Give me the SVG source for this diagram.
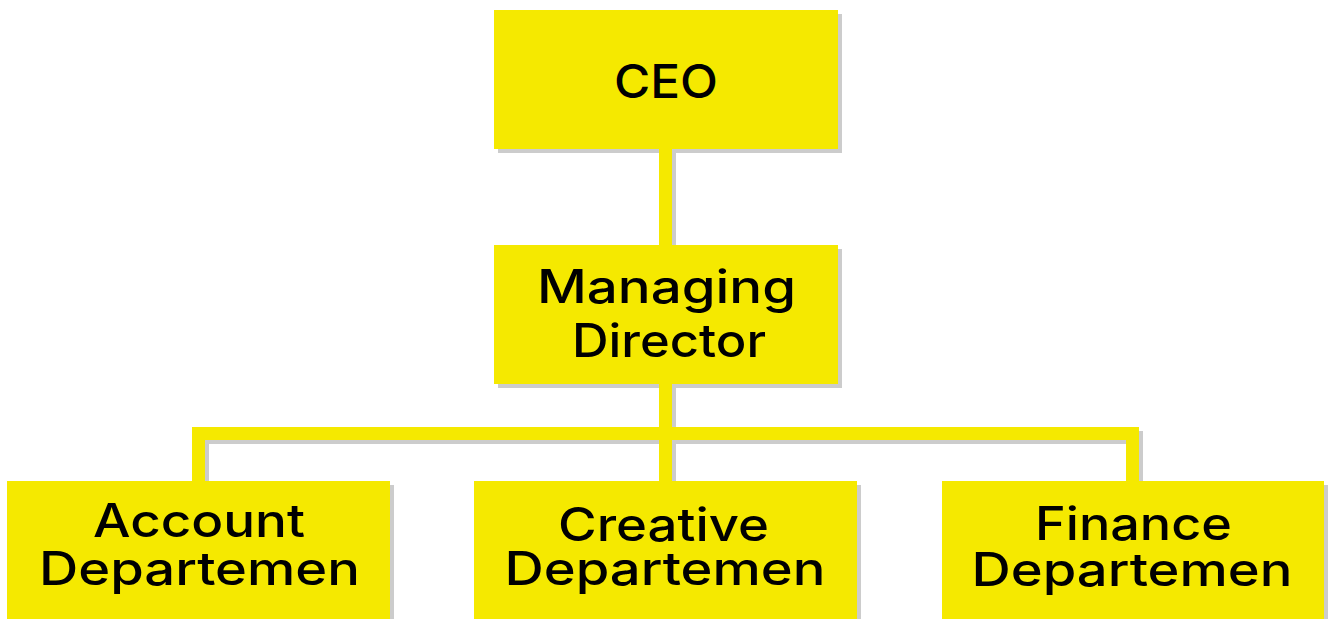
<svg xmlns="http://www.w3.org/2000/svg" width="1328" height="619" viewBox="0 0 1328 619">
<style>
.box{fill:#F5E900}
.sh{fill:#CCCCCC}
.cs{fill:none;stroke:#CCCCCC;stroke-width:13}
.c{fill:none;stroke:#F5E900;stroke-width:13}
.t{font-family:Inter,"Noto Sans",sans-serif;font-weight:500;font-size:46px;fill:#000;text-anchor:middle}
</style>
<rect width="1328" height="619" fill="#fff"/>
<g id="shadows">
<rect class="sh" x="498" y="14" width="344" height="139"/>
<rect class="sh" x="498" y="249" width="344" height="139"/>
<rect class="sh" x="11" y="485" width="383" height="138"/>
<rect class="sh" x="478" y="485" width="383" height="138"/>
<rect class="sh" x="946" y="485" width="382" height="138"/>
<path class="cs" d="M669.5 153V249M669.5 388V485M202.5 485V437.5H1136.5V485"/>
</g>
<g id="connectors">
<path class="c" d="M665.5 149V245M665.5 384V481M198.5 481V433.5H1132.5V481"/>
</g>
<g id="ceo">
<rect class="box" x="494" y="10" width="344" height="139"/>
<text class="t" x="666" y="98" textLength="104" lengthAdjust="spacingAndGlyphs">CEO</text>
</g>
<g id="managing-director">
<rect class="box" x="494" y="245" width="344" height="139"/>
<text class="t" x="666.5" y="303" textLength="259" lengthAdjust="spacingAndGlyphs">Managing</text>
<text class="t" x="669" y="357" textLength="194" lengthAdjust="spacingAndGlyphs">Director</text>
</g>
<g id="account">
<rect class="box" x="7" y="481" width="383" height="138"/>
<text class="t" x="199" y="537" textLength="212" lengthAdjust="spacingAndGlyphs">Account</text>
<text class="t" x="199.5" y="585" textLength="321" lengthAdjust="spacingAndGlyphs">Departemen</text>
</g>
<g id="creative">
<rect class="box" x="474" y="481" width="383" height="138"/>
<text class="t" x="663.5" y="541" textLength="211" lengthAdjust="spacingAndGlyphs">Creative</text>
<text class="t" x="665" y="585" textLength="321" lengthAdjust="spacingAndGlyphs">Departemen</text>
</g>
<g id="finance">
<rect class="box" x="942" y="481" width="382" height="138"/>
<text class="t" x="1133.5" y="540" textLength="197" lengthAdjust="spacingAndGlyphs">Finance</text>
<text class="t" x="1132" y="586" textLength="321" lengthAdjust="spacingAndGlyphs">Departemen</text>
</g>
</svg>
